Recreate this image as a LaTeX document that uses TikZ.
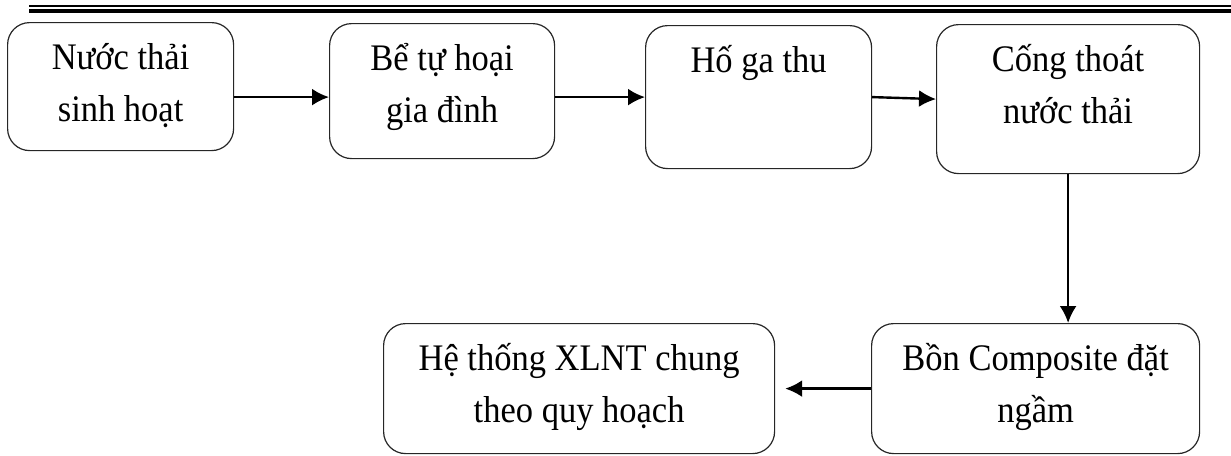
\documentclass[tikz,border=0pt]{standalone}
\usepackage{fontspec}
\setmainfont{Liberation Serif}[FakeStretch=0.92]
\usepackage{tikz}
\usetikzlibrary{positioning,arrows.meta}

\begin{document}
\begin{tikzpicture}[x=0.5pt,y=-0.5pt]
\tikzstyle{stage}=[rectangle, rounded corners=11pt, draw=black!85, line width=0.6pt, inner sep=0pt, align=center, anchor=north west, text height=49.5pt, font=\fontsize{18.75}{26}\selectfont]
\tikzstyle{arrow}=[line width=1.2pt, -{Latex[length=8.5pt,width=8.5pt]}]

\useasboundingbox (0,0) rectangle (1231,455);
% double rule on top
\draw[line width=0.9pt] (29,6) -- (1231,6);
\draw[line width=2.4pt] (29,11) -- (1231,11);

	\node[stage, minimum width=113pt, text depth=14.5pt] (b_1) at (7,22) {Nước thải\\sinh hoạt};
	\node[stage, minimum width=112.5pt, text depth=18pt] (b_2) at (329,23) {Bể tự hoại\\gia đình};
	\node[stage, minimum width=113pt, text height=23.5pt, text depth=48pt] (b_3) at (645,25) {Hố ga thu};
	\node[stage, minimum width=131.5pt, text depth=25pt] (b_4) at (936,24) {Cống thoát\\nước thải};
	\node[stage, minimum width=164pt, text depth=15.5pt] (b_5) at (871,323) {Bồn Composite đặt\\ngầm};
	\node[stage, minimum width=195.5pt, text depth=15.5pt] (b_6) at (383,323) {Hệ thống XLNT chung\\theo quy hoạch};

	\draw[arrow] (b_1.east |- b_3.west) -- (b_2.west |- b_3.west);
	\draw[arrow] (b_2.east |- b_3.west) -- (b_3.west);
	\draw[arrow] (b_3.east) -- (b_4.west);
	\draw[arrow] (b_4.south) -- (b_4.south |- b_5.north);
	\draw[arrow] (b_5.west) -- ([xshift=5pt]b_6.east |- b_5.west);

\end{tikzpicture}
\end{document}
